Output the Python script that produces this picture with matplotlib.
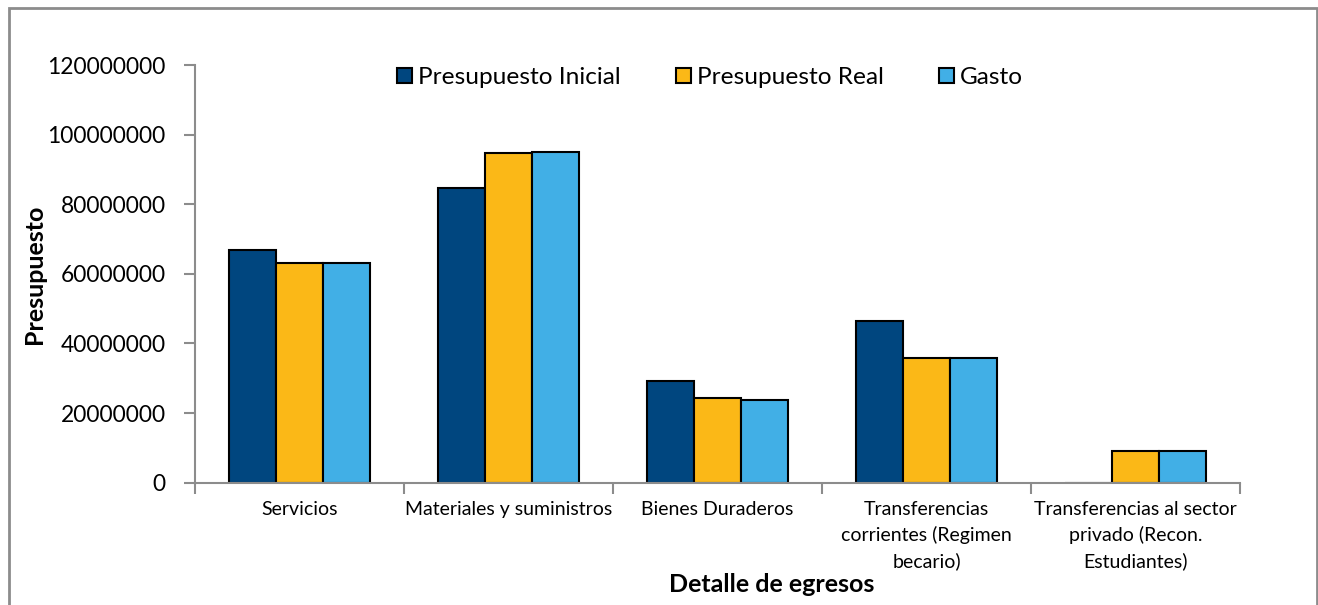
import matplotlib.pyplot as plt
import numpy as np
from matplotlib.patches import Rectangle
from matplotlib.ticker import FixedLocator

plt.rcParams['font.family'] = ['Lato', 'DejaVu Sans']

categorias = ['Servicios', 'Materiales y suministros', 'Bienes Duraderos',
              'Transferencias\ncorrientes (Regimen\nbecario)',
              'Transferencias al sector\nprivado (Recon.\nEstudiantes)']
series = ['Presupuesto Inicial', 'Presupuesto Real', 'Gasto']
presupuesto_inicial = [66800000, 84700000, 29200000, 46400000, 0]
presupuesto_real = [63100000, 94800000, 24200000, 35900000, 9100000]
gasto = [63100000, 95100000, 23800000, 35900000, 9100000]
colores = ['#00467F', '#FBB817', '#41AFE6']

fig = plt.figure(figsize=(13.18, 6.05), dpi=100)
ax = fig.add_axes([195 / 1318, 1 - 482.7 / 605, 1045 / 1318, 417.7 / 605])

x = np.arange(len(categorias))
w = 0.225
for i, (vals, nombre) in enumerate(zip([presupuesto_inicial, presupuesto_real, gasto], series)):
    # zorder below the spines so the grey axis covers the bar bottoms (like Excel)
    ax.bar(x + (i - 1) * w, vals, width=w, color=colores[i], edgecolor='black',
           linewidth=1.5, label=nombre, zorder=2)

ax.set_xlim(-0.5, len(categorias) - 0.5)
ax.set_ylim(0, 120000000)
ax.set_yticks(np.arange(0, 120000001, 20000000))
ax.set_yticklabels([str(v) for v in range(0, 120000001, 20000000)], fontsize=16.4)

ax.set_xticks(x)
ax.set_xticklabels(categorias, fontsize=14, linespacing=1.55)
ax.tick_params(axis='x', which='major', length=0, pad=13)
ax.xaxis.set_minor_locator(FixedLocator(np.arange(-0.5, len(categorias), 1.0)))
ax.tick_params(axis='x', which='minor', length=8, width=1.5, color='#8C8C8C', direction='out')
ax.tick_params(axis='y', length=8, width=1.5, color='#8C8C8C', pad=13)

for s in ['top', 'right']:
    ax.spines[s].set_visible(False)
for s in ['left', 'bottom']:
    ax.spines[s].set_color('#8C8C8C')
    ax.spines[s].set_linewidth(1.5)
    ax.spines[s].set_zorder(3)

ax.set_ylabel('Presupuesto', fontsize=18, fontweight='bold')
ax.yaxis.set_label_coords(-0.1426, 0.5)
ax.set_xlabel('Detalle de egresos', fontsize=18, fontweight='bold')
ax.xaxis.set_label_coords(0.552, -0.216)

leg = ax.legend(loc='center', bbox_to_anchor=(0.493, 0.97), ncol=3, frameon=False,
                fontsize=17.6, handlelength=0.62, handleheight=0.62, handletextpad=0.25,
                columnspacing=2.25)

fig.patches.append(Rectangle((8.5 / 1318, -0.1), (1317 - 8.5) / 1318, 1.1 - 8 / 605,
                             transform=fig.transFigure, fill=False,
                             edgecolor='#8C8C8C', linewidth=2))

fig.savefig('out.png', dpi=100)
